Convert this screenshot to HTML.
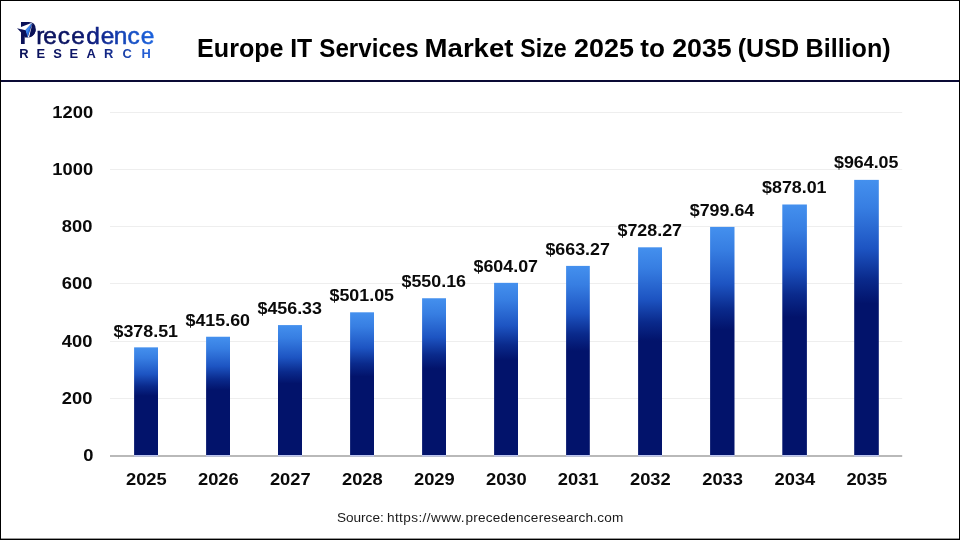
<!DOCTYPE html>
<html lang="en"><head><meta charset="utf-8"><title>Europe IT Services Market Size 2025 to 2035 (USD Billion)</title>
<style>
html,body{margin:0;padding:0;background:#fff;}
body{width:960px;height:540px;overflow:hidden;font-family:"Liberation Sans",sans-serif;}
svg{display:block}
svg text{font-family:"Liberation Sans",sans-serif;}
.b{font-weight:700;font-size:16px;fill:#0a0a0a;}
</style></head><body>
<svg width="960" height="540" viewBox="0 0 960 540">
<defs>
<linearGradient id="bar" x1="0" y1="0" x2="0" y2="1">
<stop offset="0" stop-color="#4490ee"/>
<stop offset="0.10" stop-color="#377ee2"/>
<stop offset="0.25" stop-color="#1d54c2"/>
<stop offset="0.36" stop-color="#0a2a8c"/>
<stop offset="0.45" stop-color="#02136b"/>
<stop offset="1" stop-color="#02136b"/>
</linearGradient>
<linearGradient id="lg1" gradientUnits="userSpaceOnUse" x1="0" y1="0" x2="160" y2="0">
<stop offset="0.1" stop-color="#0a1158"/>
<stop offset="0.47" stop-color="#0b1565"/>
<stop offset="0.59" stop-color="#0e1e80"/>
<stop offset="0.69" stop-color="#1232a0"/>
<stop offset="0.78" stop-color="#1548bb"/>
<stop offset="0.875" stop-color="#1856cc"/>
<stop offset="0.96" stop-color="#1b62de"/>
</linearGradient>
<linearGradient id="lg2" gradientUnits="userSpaceOnUse" x1="0" y1="0" x2="160" y2="0">
<stop offset="0.1" stop-color="#0a1158"/>
<stop offset="0.5" stop-color="#0d1668"/>
<stop offset="0.58" stop-color="#0f1a70"/>
<stop offset="0.68" stop-color="#142a8a"/>
<stop offset="0.80" stop-color="#1a45b0"/>
<stop offset="0.92" stop-color="#2560d8"/>
</linearGradient>
</defs>
<rect x="0" y="0" width="960" height="540" fill="#ffffff"/>
<rect x="110.0" y="112" width="792.20" height="1" fill="#eeeeee"/>
<rect x="110.0" y="169" width="792.20" height="1" fill="#eeeeee"/>
<rect x="110.0" y="226" width="792.20" height="1" fill="#eeeeee"/>
<rect x="110.0" y="283" width="792.20" height="1" fill="#eeeeee"/>
<rect x="110.0" y="341" width="792.20" height="1" fill="#eeeeee"/>
<rect x="110.0" y="398" width="792.20" height="1" fill="#eeeeee"/>
<text class="b" transform="translate(93.1,118.10) scale(1.147,1)" text-anchor="end">1200</text>
<text class="b" transform="translate(93.1,175.10) scale(1.147,1)" text-anchor="end">1000</text>
<text class="b" transform="translate(92.4,232.10) scale(1.147,1)" text-anchor="end">800</text>
<text class="b" transform="translate(92.4,289.10) scale(1.147,1)" text-anchor="end">600</text>
<text class="b" transform="translate(92.4,347.10) scale(1.147,1)" text-anchor="end">400</text>
<text class="b" transform="translate(92.4,404.10) scale(1.147,1)" text-anchor="end">200</text>
<text class="b" transform="translate(93.4,461.10) scale(1.147,1)" text-anchor="end">0</text>
<rect x="110.0" y="455.0" width="792.20" height="2" fill="#b9b9b9"/>
<rect x="134.10" y="347.35" width="23.90" height="107.65" fill="url(#bar)"/>
<rect x="134.10" y="455.0" width="23.90" height="1.5" fill="#bcc5f0"/>
<text class="b" transform="translate(145.75,336.85) scale(1.116,1)" text-anchor="middle">$378.51</text>
<text class="b" transform="translate(146.35,485) scale(1.147,1)" text-anchor="middle">2025</text>
<rect x="206.10" y="336.74" width="23.90" height="118.26" fill="url(#bar)"/>
<rect x="206.10" y="455.0" width="23.90" height="1.5" fill="#bcc5f0"/>
<text class="b" transform="translate(217.75,325.84) scale(1.116,1)" text-anchor="middle">$415.60</text>
<text class="b" transform="translate(218.35,485) scale(1.147,1)" text-anchor="middle">2026</text>
<rect x="278.00" y="325.09" width="24.00" height="129.91" fill="url(#bar)"/>
<rect x="278.00" y="455.0" width="24.00" height="1.5" fill="#bcc5f0"/>
<text class="b" transform="translate(289.70,313.79) scale(1.116,1)" text-anchor="middle">$456.33</text>
<text class="b" transform="translate(290.30,485) scale(1.147,1)" text-anchor="middle">2027</text>
<rect x="350.10" y="312.30" width="23.90" height="142.70" fill="url(#bar)"/>
<rect x="350.10" y="455.0" width="23.90" height="1.5" fill="#bcc5f0"/>
<text class="b" transform="translate(361.75,301.00) scale(1.116,1)" text-anchor="middle">$501.05</text>
<text class="b" transform="translate(362.35,485) scale(1.147,1)" text-anchor="middle">2028</text>
<rect x="422.10" y="298.25" width="23.90" height="156.75" fill="url(#bar)"/>
<rect x="422.10" y="455.0" width="23.90" height="1.5" fill="#bcc5f0"/>
<text class="b" transform="translate(433.75,286.95) scale(1.116,1)" text-anchor="middle">$550.16</text>
<text class="b" transform="translate(434.35,485) scale(1.147,1)" text-anchor="middle">2029</text>
<rect x="494.10" y="282.84" width="23.90" height="172.16" fill="url(#bar)"/>
<rect x="494.10" y="455.0" width="23.90" height="1.5" fill="#bcc5f0"/>
<text class="b" transform="translate(505.75,271.54) scale(1.116,1)" text-anchor="middle">$604.07</text>
<text class="b" transform="translate(506.35,485) scale(1.147,1)" text-anchor="middle">2030</text>
<rect x="566.10" y="265.90" width="23.70" height="189.10" fill="url(#bar)"/>
<rect x="566.10" y="455.0" width="23.70" height="1.5" fill="#bcc5f0"/>
<text class="b" transform="translate(577.65,254.60) scale(1.116,1)" text-anchor="middle">$663.27</text>
<text class="b" transform="translate(578.25,485) scale(1.147,1)" text-anchor="middle">2031</text>
<rect x="638.10" y="247.31" width="23.90" height="207.69" fill="url(#bar)"/>
<rect x="638.10" y="455.0" width="23.90" height="1.5" fill="#bcc5f0"/>
<text class="b" transform="translate(649.75,236.01) scale(1.116,1)" text-anchor="middle">$728.27</text>
<text class="b" transform="translate(650.35,485) scale(1.147,1)" text-anchor="middle">2032</text>
<rect x="710.10" y="226.90" width="24.40" height="228.10" fill="url(#bar)"/>
<rect x="710.10" y="455.0" width="24.40" height="1.5" fill="#bcc5f0"/>
<text class="b" transform="translate(722.00,215.60) scale(1.116,1)" text-anchor="middle">$799.64</text>
<text class="b" transform="translate(722.60,485) scale(1.147,1)" text-anchor="middle">2033</text>
<rect x="782.30" y="204.49" width="24.60" height="250.51" fill="url(#bar)"/>
<rect x="782.30" y="455.0" width="24.60" height="1.5" fill="#bcc5f0"/>
<text class="b" transform="translate(794.30,193.19) scale(1.116,1)" text-anchor="middle">$878.01</text>
<text class="b" transform="translate(794.90,485) scale(1.147,1)" text-anchor="middle">2034</text>
<rect x="854.20" y="179.88" width="24.60" height="275.12" fill="url(#bar)"/>
<rect x="854.20" y="455.0" width="24.60" height="1.5" fill="#bcc5f0"/>
<text class="b" transform="translate(866.20,168.48) scale(1.116,1)" text-anchor="middle">$964.05</text>
<text class="b" transform="translate(866.80,485) scale(1.147,1)" text-anchor="middle">2035</text>
<rect x="0" y="80" width="960" height="2" fill="#0a0a35"/>
<text y="56.6" font-size="25.4" font-weight="700" fill="#000"><tspan x="197.02" textLength="86.57" lengthAdjust="spacingAndGlyphs">Europe</tspan> <tspan x="290.19" textLength="22.03" lengthAdjust="spacingAndGlyphs">IT</tspan> <tspan x="319.29" textLength="99.52" lengthAdjust="spacingAndGlyphs">Services</tspan> <tspan x="424.60" textLength="88.89" lengthAdjust="spacingAndGlyphs">Market</tspan> <tspan x="520.31" textLength="46.43" lengthAdjust="spacingAndGlyphs">Size</tspan> <tspan x="573.97" textLength="59.91" lengthAdjust="spacingAndGlyphs">2025</tspan> <tspan x="640.34" textLength="24.65" lengthAdjust="spacingAndGlyphs">to</tspan> <tspan x="672.18" textLength="59.60" lengthAdjust="spacingAndGlyphs">2035</tspan> <tspan x="737.76" textLength="61.40" lengthAdjust="spacingAndGlyphs">(USD</tspan> <tspan x="805.52" textLength="85.15" lengthAdjust="spacingAndGlyphs">Billion)</tspan></text>
<text y="44.1" fill="url(#lg1)"><tspan x="19.27" y="44" font-size="32" font-weight="700" fill="#0a1158" textLength="17.29" lengthAdjust="spacingAndGlyphs">P</tspan><tspan y="44.1" font-size="24.5" stroke="url(#lg1)" stroke-width="0.55" x="36.2 43.2 57.8 71.2 86.3 100.7 113.8 127.4 140.7">recedence</tspan></text>
<g><rect x="24" y="25" width="8.3" height="8.6" fill="#0a1158"/>
<path d="M24.6,32 L33,32 C34.6,31 35.6,29.6 35.75,27.6 C36.3,33.2 32.8,37.5 28.4,37.5 L24.6,37.5 Z" fill="#0a1158"/>
<polygon points="17,28.3 25.3,30.3 25.3,32.6 21.2,32.4" fill="#0a1158"/>
<polygon points="32.6,22.5 20.4,27.3 20.4,29.1 25.5,30.3" fill="#fff"/>
<polygon points="32,23.3 25.6,30.1 27.6,37.4" fill="#2a6fe0"/>
<polygon points="32,23.3 25.6,30.1 26.7,33.6" fill="#3f88ee"/>
<polygon points="32.6,22.7 27.8,37.2 29,37.5" fill="#fff"/></g>
<text y="57.75" font-size="12.9" font-weight="700" fill="url(#lg2)" x="19.24 36.42 53.31 69.52 86.4 103.99 122.55 141.4">RESEARCH</text>
<text y="522" font-size="13.6" fill="#1a1a1a"><tspan x="336.9">Source: </tspan><tspan x="387" textLength="77.6" lengthAdjust="spacing">https://www.</tspan><tspan x="465.4" textLength="158" lengthAdjust="spacing">precedenceresearch.com</tspan></text>
<rect x="0.5" y="0.5" width="959" height="539" fill="none" stroke="#000" stroke-width="1"/>
<rect x="0" y="538.6" width="960" height="1.4" fill="#000"/>
</svg></body></html>
